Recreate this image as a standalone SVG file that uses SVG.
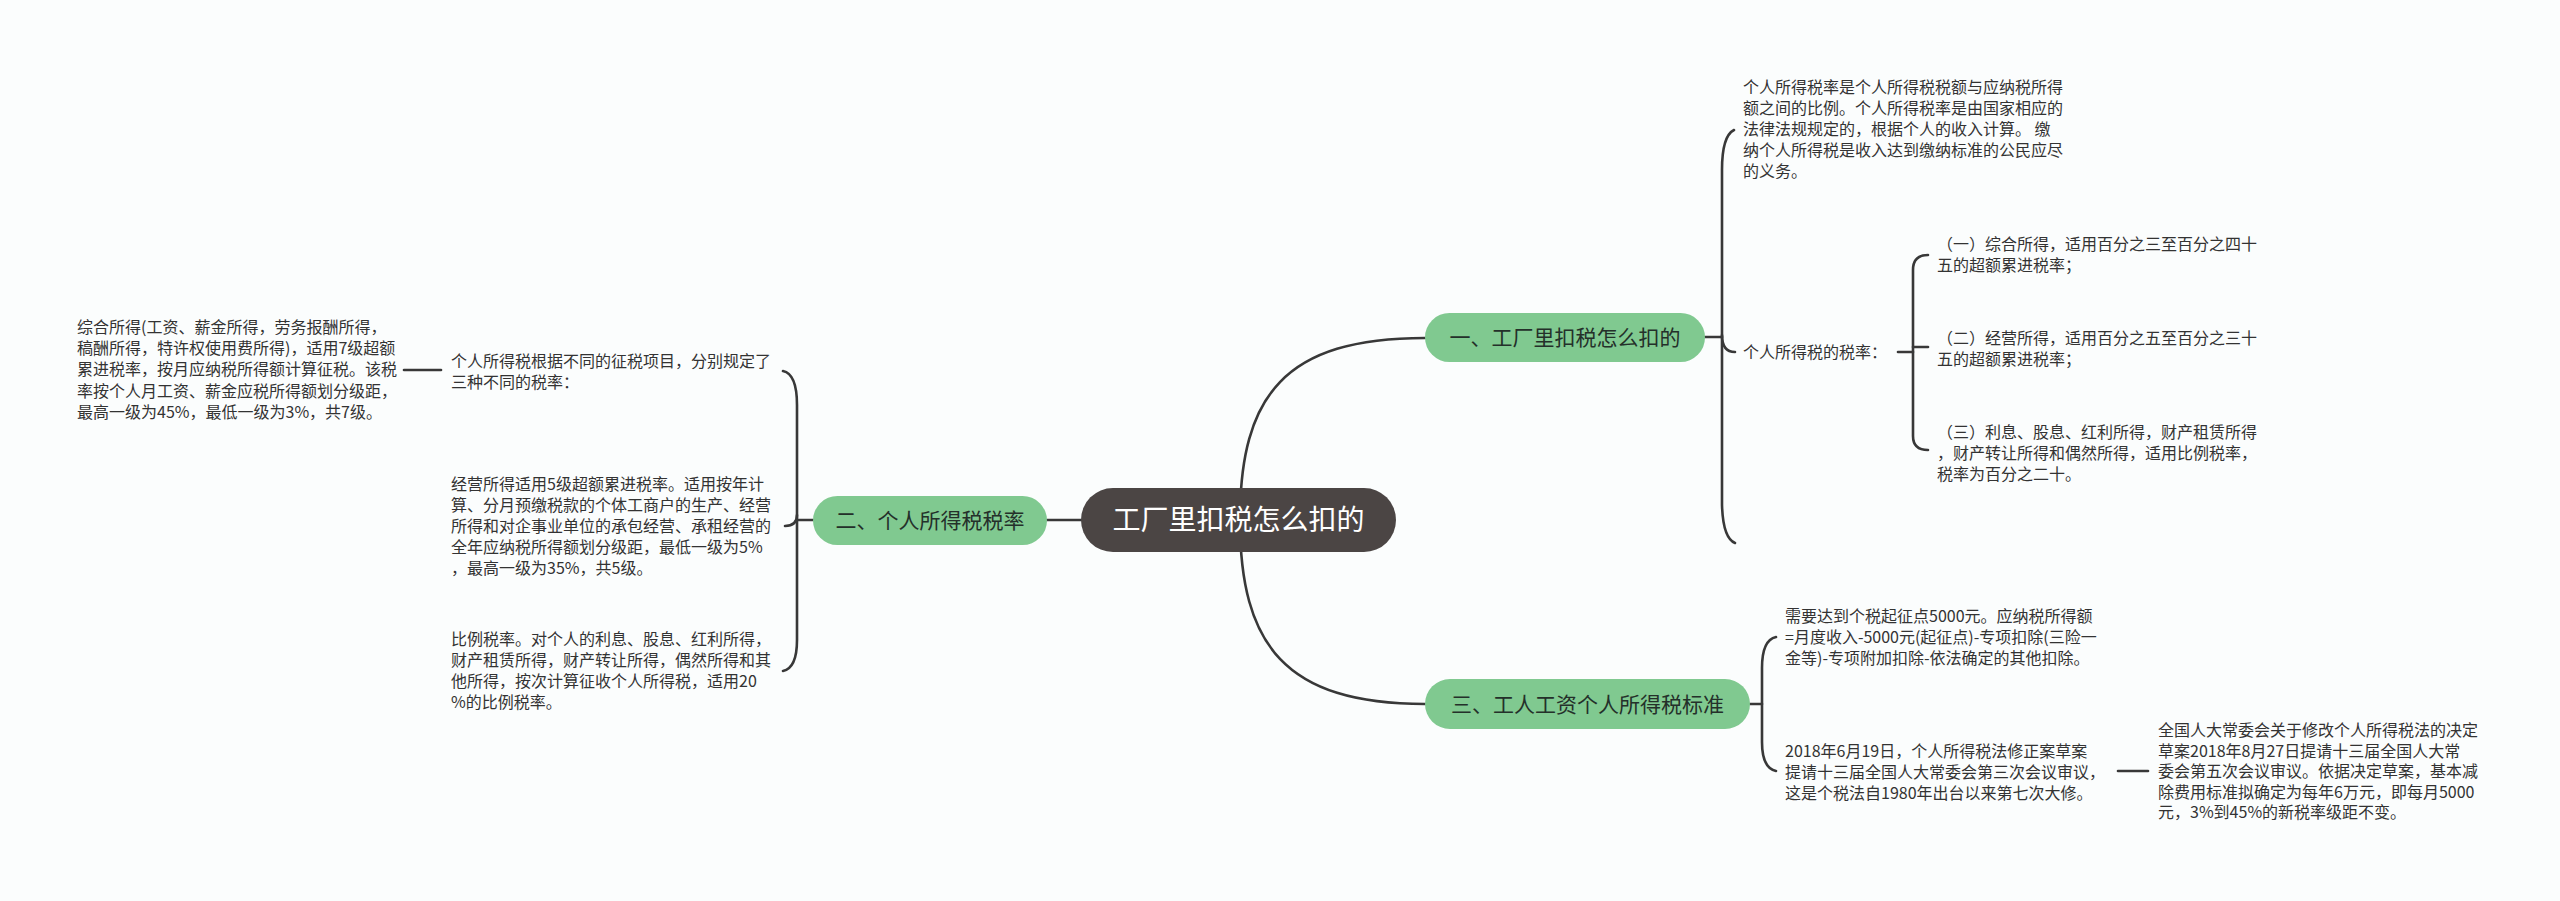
<svg xmlns="http://www.w3.org/2000/svg" width="2560" height="901" viewBox="0 0 2560 901">
<style>
.bg{fill:#fbfdfd}
.ln{fill:none;stroke:#383838;stroke-width:2.6;stroke-linecap:round}
.root{fill:#4b4544}
.rt{fill:#ffffff;font-family:"Noto Sans CJK SC","Noto Sans",sans-serif;font-size:28px;text-anchor:middle}
.br{fill:#80c990}
.bt{fill:#24302a;font-family:"Noto Sans CJK SC","Noto Sans",sans-serif;font-size:21px;text-anchor:middle}
.lt{fill:#333333;font-family:"Noto Sans CJK SC","Noto Sans",sans-serif;font-size:16px}
</style>
<rect class="bg" x="0" y="0" width="2560" height="901"/>
<g id="connectors">
<path class="ln" d="M1240,520 C1240,395 1285,338 1425,338"/>
<path class="ln" d="M1240,520 C1240,645 1285,704 1425,704"/>
<path class="ln" d="M1081,520 L1047,520"/>
<path class="ln" d="M813,520 L797,520"/>
<path class="ln" d="M783,371 Q797,374 797,405 L797,640 Q797,668 783,671"/>
<path class="ln" d="M797,515 Q797,526 785,526"/>
<path class="ln" d="M441,370 L404,370"/>
<path class="ln" d="M1705,337 L1722,337"/>
<path class="ln" d="M1734,130 Q1722,136 1722,170 L1722,505 Q1723,538 1735,543"/>
<path class="ln" d="M1722,335 Q1722,352 1735,352"/>
<path class="ln" d="M1898,352 L1913,352"/>
<path class="ln" d="M1928,255 Q1913,255 1913,270 L1913,436 Q1913,450 1928,450"/>
<path class="ln" d="M1913,347 L1928,347"/>
<path class="ln" d="M1750,704 L1762,704"/>
<path class="ln" d="M1776,637 Q1762,640 1762,668 L1762,742 Q1762,768 1776,771"/>
<path class="ln" d="M2118,771 L2148,771"/>
</g>
<g id="root">
<rect class="root" x="1081" y="488" width="315" height="64" rx="32"/>
<text class="rt" x="1238.5" y="530">工厂里扣税怎么扣的</text>
</g>
<g id="branch1">
<rect class="br" x="1425" y="313" width="280" height="49" rx="24.5"/>
<text class="bt" x="1565" y="345">一、工厂里扣税怎么扣的</text>
</g>
<g id="branch2">
<rect class="br" x="813" y="496" width="234" height="49" rx="24.5"/>
<text class="bt" x="930" y="528">二、个人所得税税率</text>
</g>
<g id="branch3">
<rect class="br" x="1425" y="679" width="325" height="50" rx="25"/>
<text class="bt" x="1587.5" y="711.5">三、工人工资个人所得税标准</text>
</g>
<g id="b1-definition">
<text class="lt" x="1743" y="93">个人所得税率是个人所得税税额与应纳税所得</text>
<text class="lt" x="1743" y="114">额之间的比例。个人所得税率是由国家相应的</text>
<text class="lt" x="1743" y="135">法律法规规定的，根据个人的收入计算。 缴</text>
<text class="lt" x="1743" y="156">纳个人所得税是收入达到缴纳标准的公民应尽</text>
<text class="lt" x="1743" y="177">的义务。</text>
</g>
<g id="b1-rates">
<text class="lt" x="1743" y="358">个人所得税的税率：</text>
</g>
<g id="b1-rate1">
<text class="lt" x="1937" y="250">（一）综合所得，适用百分之三至百分之四十</text>
<text class="lt" x="1937" y="271">五的超额累进税率；</text>
</g>
<g id="b1-rate2">
<text class="lt" x="1937" y="344">（二）经营所得，适用百分之五至百分之三十</text>
<text class="lt" x="1937" y="365">五的超额累进税率；</text>
</g>
<g id="b1-rate3">
<text class="lt" x="1937" y="438">（三）利息、股息、红利所得，财产租赁所得</text>
<text class="lt" x="1937" y="459">，财产转让所得和偶然所得，适用比例税率，</text>
<text class="lt" x="1937" y="480">税率为百分之二十。</text>
</g>
<g id="b2-intro">
<text class="lt" x="451" y="367">个人所得税根据不同的征税项目，分别规定了</text>
<text class="lt" x="451" y="388">三种不同的税率：</text>
</g>
<g id="b2-comprehensive">
<text class="lt" x="77" y="333">综合所得(工资、薪金所得，劳务报酬所得，</text>
<text class="lt" x="77" y="354">稿酬所得，特许权使用费所得)，适用7级超额</text>
<text class="lt" x="77" y="375">累进税率，按月应纳税所得额计算征税。该税</text>
<text class="lt" x="77" y="397">率按个人月工资、薪金应税所得额划分级距，</text>
<text class="lt" x="77" y="418">最高一级为45%，最低一级为3%，共7级。</text>
</g>
<g id="b2-business">
<text class="lt" x="451" y="490">经营所得适用5级超额累进税率。适用按年计</text>
<text class="lt" x="451" y="511">算、分月预缴税款的个体工商户的生产、经营</text>
<text class="lt" x="451" y="532">所得和对企事业单位的承包经营、承租经营的</text>
<text class="lt" x="451" y="553">全年应纳税所得额划分级距，最低一级为5%</text>
<text class="lt" x="451" y="574">，最高一级为35%，共5级。</text>
</g>
<g id="b2-proportional">
<text class="lt" x="451" y="645">比例税率。对个人的利息、股息、红利所得，</text>
<text class="lt" x="451" y="666">财产租赁所得，财产转让所得，偶然所得和其</text>
<text class="lt" x="451" y="687">他所得，按次计算征收个人所得税，适用20</text>
<text class="lt" x="451" y="708">%的比例税率。</text>
</g>
<g id="b3-threshold">
<text class="lt" x="1785" y="622">需要达到个税起征点5000元。应纳税所得额</text>
<text class="lt" x="1785" y="643">=月度收入-5000元(起征点)-专项扣除(三险一</text>
<text class="lt" x="1785" y="664">金等)-专项附加扣除-依法确定的其他扣除。</text>
</g>
<g id="b3-amendment">
<text class="lt" x="1785" y="757">2018年6月19日，个人所得税法修正案草案</text>
<text class="lt" x="1785" y="778">提请十三届全国人大常委会第三次会议审议，</text>
<text class="lt" x="1785" y="799">这是个税法自1980年出台以来第七次大修。</text>
</g>
<g id="b3-decision">
<text class="lt" x="2158" y="736">全国人大常委会关于修改个人所得税法的决定</text>
<text class="lt" x="2158" y="757">草案2018年8月27日提请十三届全国人大常</text>
<text class="lt" x="2158" y="777">委会第五次会议审议。依据决定草案，基本减</text>
<text class="lt" x="2158" y="798">除费用标准拟确定为每年6万元，即每月5000</text>
<text class="lt" x="2158" y="818">元，3%到45%的新税率级距不变。</text>
</g>
</svg>
